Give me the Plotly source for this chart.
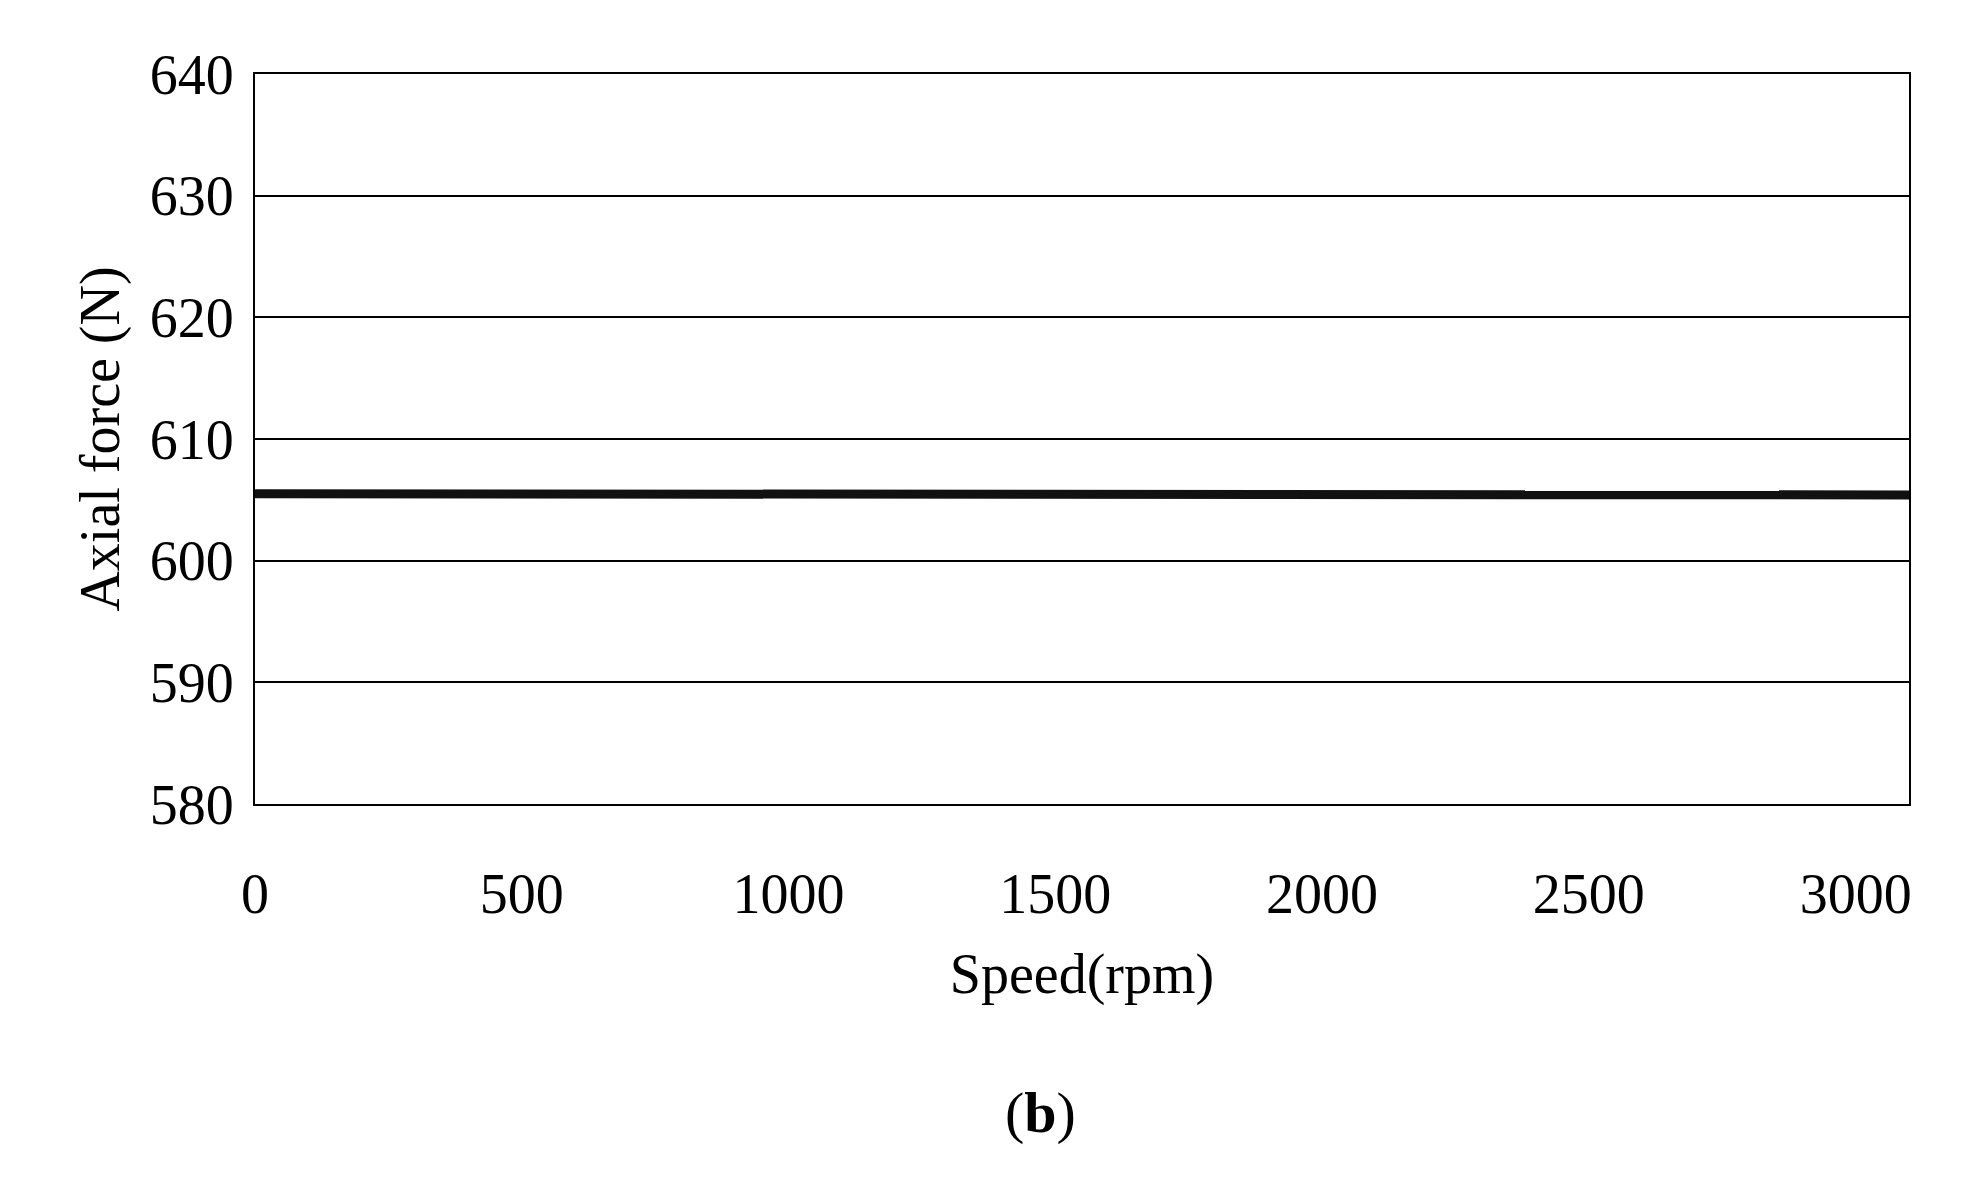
import plotly.graph_objects as go

speed = [0, 500, 1000, 1500, 1600, 2000, 2500, 3000, 3100]
axial_force = [605.5, 605.5, 605.5, 605.5, 605.5, 605.4, 605.4, 605.4, 605.4]
xticks = [0, 500, 1000, 1500, 2000, 2500, 3000]
yticks = [580, 590, 600, 610, 620, 630, 640]

fig = go.Figure()
fig.add_trace(go.Scatter(x=speed, y=axial_force, mode="lines",
                         line=dict(color="#111111", width=9), showlegend=False))

font = dict(family="Liberation Serif", size=56, color="black")
fig.update_layout(
    width=1963, height=1183, plot_bgcolor="white", paper_bgcolor="white",
    margin=dict(l=247, r=62, t=66, b=387),
    font=font,
    xaxis=dict(range=[0, 3100], tickvals=xticks, showgrid=False, zeroline=False,
               showline=True, linecolor="black", linewidth=2, mirror=True,
               ticks="", ticklabelstandoff=40,
               title=dict(text="Speed(rpm)", font=font, standoff=30)),
    yaxis=dict(range=[580, 640], tickvals=yticks, showgrid=True, gridcolor="black",
               gridwidth=2, zeroline=False, showline=True, linecolor="black",
               linewidth=2, mirror=True, ticks="", ticklabelstandoff=8,
               title=dict(text="Axial force (N)", font=font, standoff=12)),
)
fig.add_annotation(text="(<b>b</b>)", xref="paper", yref="paper", x=0.475, y=-0.47,
                   showarrow=False, font=dict(family="Liberation Serif", size=58, color="black"))
fig.write_html("out.html")
